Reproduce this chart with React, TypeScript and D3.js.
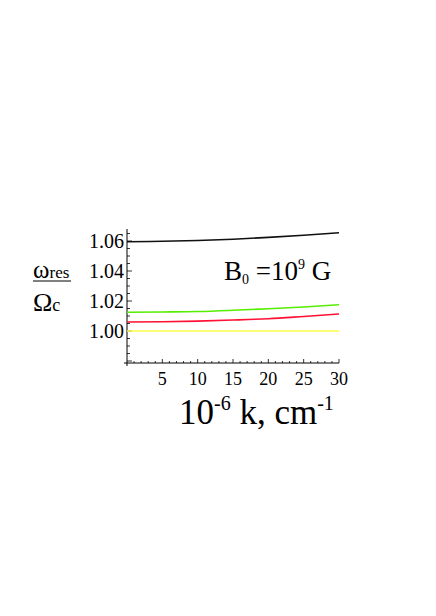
import React from "react";
import * as d3 from "d3";

const kValues = [0, 5, 10, 15, 20, 25, 30];
const blackSeries = [1.0595, 1.0598, 1.0603, 1.0612, 1.0624, 1.0638, 1.0655];
const greenSeries = [1.0125, 1.0127, 1.013, 1.0138, 1.0148, 1.016, 1.0175];
const redSeries = [1.006, 1.0062, 1.0066, 1.0073, 1.0082, 1.0097, 1.0113];
const yellowSeries = [1.0, 1.0, 1.0, 1.0, 1.0, 1.0, 1.0];
const xTickLabels = [5, 10, 15, 20, 25, 30];
const yTickLabels = [1.0, 1.02, 1.04, 1.06];

const series = [
  { values: blackSeries, color: "#111111" },
  { values: greenSeries, color: "#55ee00" },
  { values: redSeries, color: "#ff1133" },
  { values: yellowSeries, color: "#ffff44" },
];

export default function App() {
  const W = 436, H = 616;
  const x0 = 127, x1 = 339;
  const yTop = 229, yBot = 363;
  const x = d3.scaleLinear().domain([0, 30]).range([x0, x1]);
  const y = d3.scaleLinear().domain([1.0, 1.06]).range([331, 241]);
  const yMin = y.invert(yBot), yMax = y.invert(yTop);
  const line = d3.line<number>().x((_, i) => x(kValues[i])).y((d) => y(d)).curve(d3.curveMonotoneX);
  const font = "'Liberation Serif', 'Times New Roman', serif";
  const xMinor = d3.range(1, 31);
  const yMinorStart = Math.ceil(yMin / 0.005) * 0.005;
  const yMinor = d3.range(yMinorStart, yMax, 0.005);
  return (
    <svg width={W} height={H} style={{ position: "absolute", left: 0, top: 0, background: "#fff" }}>
      {/* axes */}
      <line x1={x0 - 3} x2={x1} y1={yBot} y2={yBot} stroke="#000" strokeWidth={1} />
      <line x1={x0} x2={x0} y1={yTop} y2={yBot + 3} stroke="#000" strokeWidth={1} />
      {xMinor.map((v) => (
        <line key={"xm" + v} x1={x(v)} x2={x(v)} y1={yBot} y2={yBot - (v % 5 === 0 ? 4 : 2)} stroke="#000" strokeWidth={0.8} />
      ))}
      {yMinor.map((v, i) => {
        const major = Math.abs(Math.round(v * 100) - v * 100) < 1e-6 && Math.round(v * 100) % 2 === 0;
        return <line key={"ym" + i} x1={x0} x2={x0 + (major ? 5 : 3)} y1={y(v)} y2={y(v)} stroke="#000" strokeWidth={0.8} />;
      })}
      {xTickLabels.map((v) => (
        <text key={"xt" + v} x={x(v)} y={385} fontFamily={font} fontSize={18} textAnchor="middle" fill="#000">{v}</text>
      ))}
      {yTickLabels.map((v) => (
        <text key={"yt" + v} x={124} y={y(v) + 7} fontFamily={font} fontSize={20} textAnchor="end" fill="#000">{v.toFixed(2)}</text>
      ))}
      {/* series */}
      {series.map((s, i) => (
        <path key={i} d={line(s.values) || ""} fill="none" stroke={s.color} strokeWidth={1.6} />
      ))}
      {/* annotation */}
      <text x={224} y={280} fontFamily={font} fontSize={27} fill="#000">
        B<tspan fontSize={14} dy={4}>0</tspan><tspan dy={-4}> =10</tspan><tspan fontSize={14} dy={-11}>9</tspan><tspan dy={11}> G</tspan>
      </text>
      {/* y label */}
      <text x={33} y={278} fontFamily={font} fontSize={25} fill="#000">ω<tspan fontSize={17}>res</tspan></text>
      <line x1={33} x2={71} y1={281} y2={281} stroke="#000" strokeWidth={1} />
      <text x={33} y={311} fontFamily={font} fontSize={26} fill="#000">Ω<tspan fontSize={18}>c</tspan></text>
      {/* x label */}
      <text x={179} y={424} fontFamily={font} fontSize={35} fill="#000">
        10<tspan fontSize={20} dy={-14}>-6</tspan><tspan dy={14}> k, cm</tspan><tspan fontSize={20} dy={-14}>-1</tspan>
      </text>
    </svg>
  );
}
